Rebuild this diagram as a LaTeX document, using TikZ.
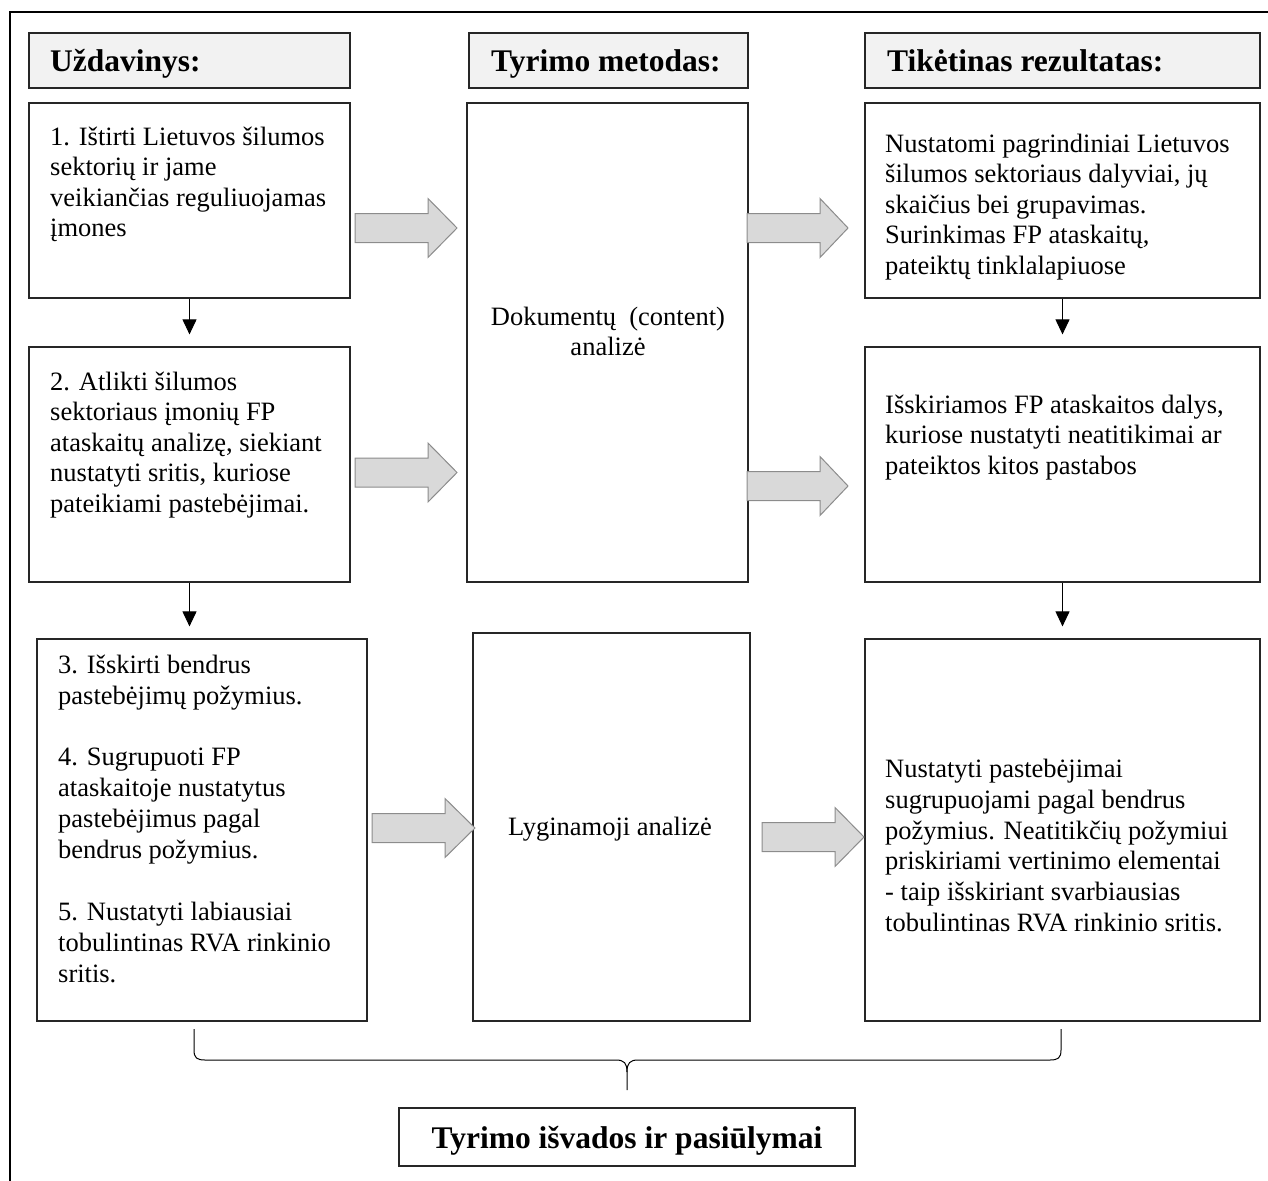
\documentclass[tikz,border=0pt]{standalone}
\usepackage{fontspec}
\setmainfont{Liberation Serif}
\usetikzlibrary{arrows.meta,fit}
\definecolor{hfill}{HTML}{F2F2F2}
\definecolor{afill}{HTML}{D9D9D9}
\definecolor{aedge}{HTML}{8C8C8C}
\newcommand\firstl{\rule{0pt}{26pt}}
\newcommand\barrow[4]{%
  \filldraw[barr] (#1,#4-14.5) -- (#2,#4-14.5) -- (#2,#4-29.5) -- (#3,#4)
    -- (#2,#4+29.5) -- (#2,#4+14.5) -- (#1,#4+14.5) -- cycle;}
\begin{document}
\begin{tikzpicture}[x=1pt,y=-1pt,
  box/.style={draw=black!85, line width=1.2pt, inner sep=0pt, fit={#1}},
  hbox/.style={box={#1}, fill=hfill},
  htext/.style={anchor=base west, inner sep=0pt, font=\fontsize{31.5}{36}\selectfont\bfseries},
  txt/.style={anchor=north west, inner sep=0pt, align=left, font=\fontsize{26.5}{30.5}\selectfont},
  txtw/.style={txt, font=\fontsize{26.5}{30.9}\selectfont},
  ctxt/.style={inner sep=0pt, align=center, font=\fontsize{26.5}{30.5}\selectfont},
  dn/.style={draw=black, line width=1pt, -{Triangle[width=14pt,length=15pt]}, shorten >=12pt},
  barr/.style={fill=afill, draw=aedge, line width=1pt, line join=miter},
  brace/.style={draw=black, line width=1pt}]
\useasboundingbox (0,0) rectangle (1268,1180);
% outer frame
\draw[line width=2.6pt, line join=miter] (10,1182) -- (10,12) -- (1270,12);
% headers
\node[hbox={(29,33) (350,88)}] (h1) {};
\node[hbox={(469,33) (748,88)}] (h2) {};
\node[hbox={(865,33) (1260,88)}] (h3) {};
\node[htext] (h1t) at (50,72) {Uždavinys:};
\node[htext] (h2t) at (491,72) {Tyrimo metodas:};
\node[htext] (h3t) at (887,72) {Tikėtinas rezultatas:};
% left column
\node[box={(29,103) (350,298)}] (b1) {};
\node[box={(29,347) (350,582)}] (b2) {};
\node[box={(37,639) (367,1021)}] (b3) {};
\node[txt] (b1t) at (50,119) {\firstl 1. Ištirti Lietuvos šilumos\\sektorių ir jame\\veikiančias reguliuojamas\\įmones};
\node[txt] (b2t) at (50,364) {\firstl 2. Atlikti šilumos\\sektoriaus įmonių FP\\ataskaitų analizę, siekiant\\nustatyti sritis, kuriose\\pateikiami pastebėjimai.};
\node[txtw] (b3t) at (58,647) {\firstl 3. Išskirti bendrus\\pastebėjimų požymius.\\[30.9pt]4. Sugrupuoti FP\\ataskaitoje nustatytus\\pastebėjimus pagal\\bendrus požymius.\\[30.9pt]5. Nustatyti labiausiai\\tobulintinas RVA rinkinio\\sritis.};
% middle column
\node[box={(467,103) (748,582)}] (m1) {};
\node[box={(473,633) (750,1021)}] (m2) {};
\node[ctxt, anchor=north] (m1t) at (608,299) {\firstl Dokumentų\ \ (content)\\analizė};
\node[ctxt, anchor=base] (m2t) at (610,835) {Lyginamoji analizė};
% right column
\node[box={(865,103) (1260,298)}] (r1) {};
\node[box={(865,347) (1260,582)}] (r2) {};
\node[box={(865,639) (1260,1021)}] (r3) {};
\node[txt] (r1t) at (885,126) {\firstl Nustatomi pagrindiniai Lietuvos\\šilumos sektoriaus dalyviai, jų\\skaičius bei grupavimas.\\Surinkimas FP ataskaitų,\\pateiktų tinklalapiuose};
\node[txt] (r2t) at (885,387) {\firstl Išskiriamos FP ataskaitos dalys,\\kuriose nustatyti neatitikimai ar\\pateiktos kitos pastabos};
\node[txtw] (r3t) at (885,751) {\firstl Nustatyti pastebėjimai\\sugrupuojami pagal bendrus\\požymius. Neatitikčių požymiui\\priskiriami vertinimo elementai\\- taip išskiriant svarbiausias\\tobulintinas RVA rinkinio sritis.};
% down arrows
\draw[dn] (b1.south) -- (b1.south |- b2.north);
\draw[dn] (b2.south) -- (b2.south |- b3.north);
\draw[dn] (r1.south) -- (r2.north);
\draw[dn] (r2.south) -- (r2.south |- r3.north);
% block arrows
\barrow{355}{428}{457}{228}
\barrow{747}{820}{848}{228}
\barrow{355}{428}{457}{472.5}
\barrow{747}{820}{848}{486}
\barrow{372}{445}{475}{828}
\barrow{762}{835}{864}{837}
% final box
\node[box={(399,1108) (855,1166)}] (f) {};
\node[htext, anchor=base] (ft) at (627,1148) {Tyrimo išvados ir pasiūlymai};
% brace
\coordinate (bl) at (194,1029);
\coordinate (br) at (1061,1029);
\coordinate (bt) at (627,1090);
\draw[brace] (bl) -- (194,1050) .. controls (194,1058) and (197,1060) .. (205,1060)
  -- (616,1060) .. controls (624,1060) and (627,1063) .. (627,1072) -- (bt);
\draw[brace] (627,1072) .. controls (627,1063) and (630,1060) .. (638,1060)
  -- (1050,1060) .. controls (1058,1060) and (1061,1058) .. (1061,1050) -- (br);
\end{tikzpicture}
\end{document}
